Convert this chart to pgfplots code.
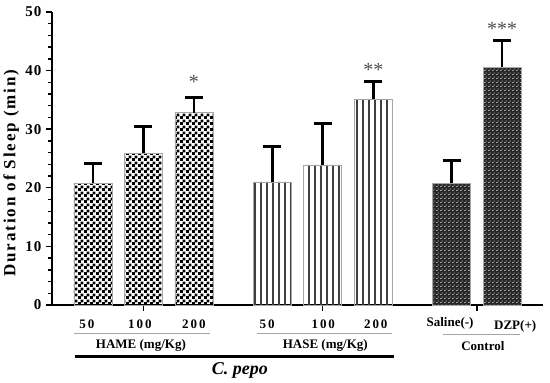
\documentclass[border=0pt]{standalone}
\usepackage{fontspec}
\setmainfont{Liberation Serif}
\usepackage{pgfplots}
\pgfplotsset{compat=1.18}
\usetikzlibrary{patterns}

\pgfdeclarepatternformonly{checkerthree}{\pgfpointorigin}{\pgfqpoint{6bp}{6bp}}{\pgfqpoint{6bp}{6bp}}{%
  \pgfpathrectangle{\pgfpointorigin}{\pgfqpoint{3.3bp}{3.3bp}}%
  \pgfpathrectangle{\pgfqpoint{3bp}{3bp}}{\pgfqpoint{3.3bp}{3.3bp}}%
  \pgfusepath{fill}}
\pgfdeclarepatternformonly{vlinessix}{\pgfqpoint{0bp}{-1bp}}{\pgfqpoint{6bp}{7bp}}{\pgfqpoint{6bp}{6bp}}{%
  \pgfsetlinewidth{1.2bp}%
  \pgfpathmoveto{\pgfqpoint{3bp}{-1bp}}\pgfpathlineto{\pgfqpoint{3bp}{7bp}}\pgfusepath{stroke}}
\pgfdeclarepatternformonly{weave}{\pgfpointorigin}{\pgfqpoint{4bp}{4bp}}{\pgfqpoint{4bp}{4bp}}{%
  \pgfpathrectangle{\pgfpointorigin}{\pgfqpoint{2bp}{1bp}}%
  \pgfpathrectangle{\pgfqpoint{2bp}{2bp}}{\pgfqpoint{2bp}{1bp}}%
  \pgfusepath{fill}}

\newcommand{\numfont}{\bfseries\fontsize{13bp}{15bp}\selectfont\addfontfeature{LetterSpace=15}}
\newcommand{\labfont}{\bfseries\fontsize{13bp}{15bp}\selectfont}

\begin{document}
\begin{tikzpicture}
\path[use as bounding box] (-52bp,-78bp) rectangle (498bp,305bp);
\begin{axis}[
  scale only axis,
  width=491bp, height=293bp,
  xmin=-0.81, xmax=8.91,
  ymin=0, ymax=50,
  axis x line*=bottom,
  axis y line*=left,
  axis line style={black, line width=1.6bp},
  xtick={1,4.55,7.6},
  xticklabels={},
  ytick={0,10,20,30,40,50},
  minor y tick num=4,
  tick align=outside,
  major tick length=6bp,
  minor tick length=3.5bp,
  tick style={black, line width=1.4bp},
  /pgf/number format/assume math mode=true,
  yticklabel={\pgfmathprintnumber[assume math mode=true]{\tick}},
  yticklabel style={font=\bfseries\fontsize{15bp}{17bp}\selectfont\addfontfeature{LetterSpace=8}, xshift=-1bp},
  ylabel={Duration of Sleep (min)},
  ylabel style={at={(axis description cs:-0.083,0.45)}, anchor=center,
    font=\bfseries\fontsize{17bp}{19bp}\selectfont\addfontfeature{LetterSpace=11}},
  clip=false,
]
% HAME
\addplot[ybar, bar width=38bp, bar shift=0pt, draw=gray!70, line width=0.6bp,
  pattern=checkerthree, pattern color=black,
  error bars/.cd, y dir=plus, y explicit, error mark=-,
  error bar style={black, line width=2.8bp},
  error mark options={rotate=90, black, line width=2.8bp, mark size=9bp}]
  coordinates {(0,20.8) +- (0,3.3) (1,25.9) +- (0,4.5) (2,32.8) +- (0,2.6)};
% HASE
\addplot[ybar, bar width=38bp, bar shift=0pt, draw=gray!70, line width=0.6bp,
  pattern=vlinessix, pattern color=black!75,
  error bars/.cd, y dir=plus, y explicit, error mark=-,
  error bar style={black, line width=2.8bp},
  error mark options={rotate=90, black, line width=2.8bp, mark size=9bp}]
  coordinates {(3.55,21.0) +- (0,6.0) (4.55,23.9) +- (0,7.1) (5.55,35.1) +- (0,3.0)};
% Control
\addplot[ybar, bar width=38bp, bar shift=0pt, draw=gray!70, line width=0.6bp,
  fill=black!85, postaction={pattern=weave, pattern color=gray!65},
  error bars/.cd, y dir=plus, y explicit, error mark=-,
  error bar style={black, line width=2.8bp},
  error mark options={rotate=90, black, line width=2.8bp, mark size=9bp}]
  coordinates {(7.1,20.8) +- (0,3.9) (8.1,40.6) +- (0,4.5)};

% significance stars
\node[anchor=north, inner sep=0pt, text=gray!60!black, font=\fontsize{20bp}{20bp}\selectfont] at (axis cs:2,39.2) {*};
\node[anchor=north, inner sep=0pt, text=gray!60!black, font=\fontsize{20bp}{20bp}\selectfont] at (axis cs:5.55,41.3) {**};
\node[anchor=north, inner sep=0pt, text=gray!60!black, font=\fontsize{20bp}{20bp}\selectfont] at (axis cs:8.1,48.3) {***};

% category labels
\node[font=\numfont] at ([yshift=-19bp]axis cs:-0.12,0) {50};
\node[font=\numfont] at ([yshift=-19bp]axis cs:0.93,0) {100};
\node[font=\numfont] at ([yshift=-19bp]axis cs:2.0,0) {200};
\node[font=\numfont] at ([yshift=-19bp]axis cs:3.45,0) {50};
\node[font=\numfont] at ([yshift=-19bp]axis cs:4.56,0) {100};
\node[font=\numfont] at ([yshift=-19bp]axis cs:5.6,0) {200};
\node[font=\labfont] at ([yshift=-18bp]axis cs:7.07,0) {Saline(-)};
\node[font=\labfont] at ([yshift=-21bp]axis cs:8.36,0) {DZP(+)};

\draw[gray!70, line width=0.8bp] ([yshift=-28bp]axis cs:-0.38,0) -- ([yshift=-28bp]axis cs:2.32,0);
\draw[gray!70, line width=0.8bp] ([yshift=-28bp]axis cs:3.25,0) -- ([yshift=-28bp]axis cs:5.92,0);
\draw[gray!70, line width=0.8bp] ([yshift=-29bp]axis cs:6.93,0) -- ([yshift=-29bp]axis cs:8.46,0);

\node[font=\labfont] at ([yshift=-40bp]axis cs:0.95,0) {HAME (mg/Kg)};
\node[font=\labfont] at ([yshift=-40bp]axis cs:4.6,0) {HASE (mg/Kg)};
\node[font=\labfont] at ([yshift=-41bp]axis cs:7.72,0) {Control};

\draw[black, line width=3bp] ([yshift=-51bp]axis cs:-0.36,0) -- ([yshift=-51bp]axis cs:5.96,0);
\node[font=\bfseries\itshape\fontsize{18bp}{20bp}\selectfont] at ([yshift=-65bp]axis cs:2.91,0) {C. pepo};
\end{axis}
\end{tikzpicture}
\end{document}
